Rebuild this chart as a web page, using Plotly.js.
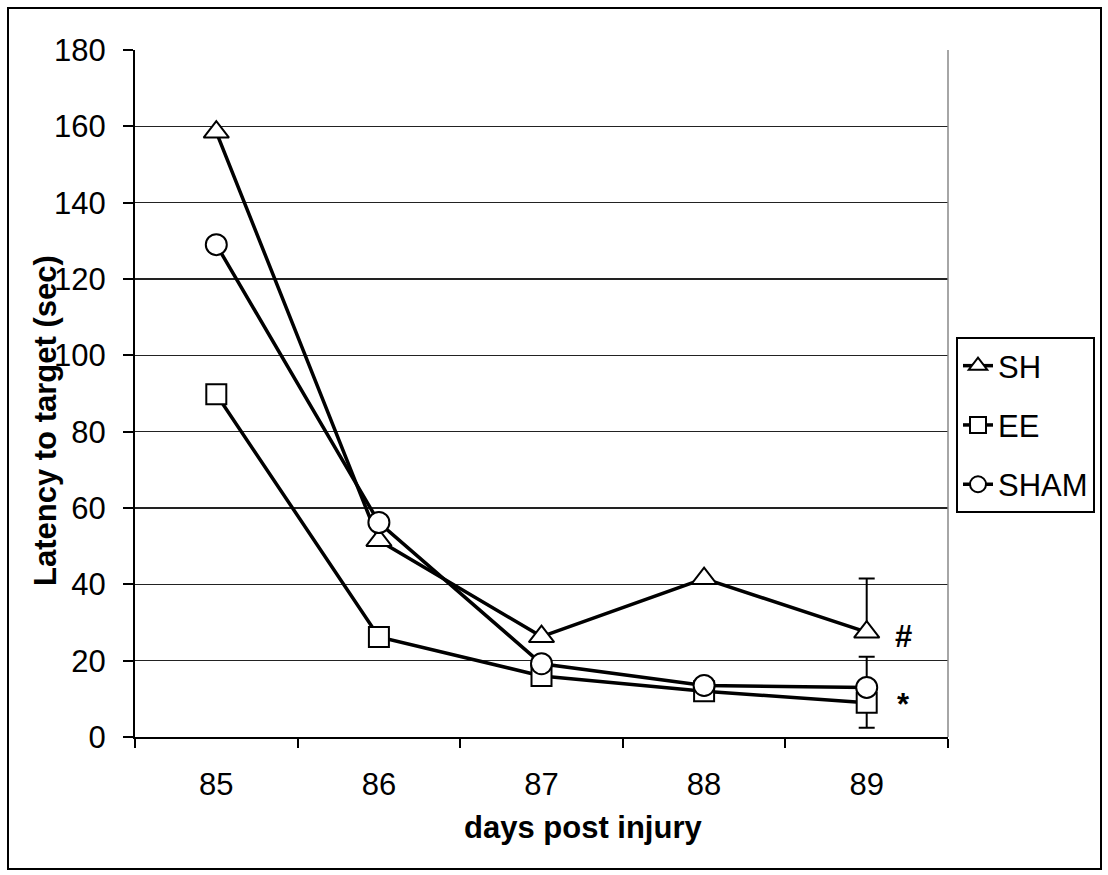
<!DOCTYPE html>
<html>
<head>
<meta charset="utf-8">
<script src="https://cdn.plot.ly/plotly-3.0.1.min.js"></script>
<style>html,body{margin:0;padding:0;background:#fff}#chart{width:1108px;height:875px}</style>
</head>
<body>
<div id="chart"></div>
<script>
const days = ['85', '86', '87', '88', '89'];
const shValues = [158.5, 51.5, 26.3, 41.5, 27.5];
const eeValues = [89.8, 26.2, 16, 12, 9];
const shamValues = [129, 56.2, 19.2, 13.5, 13];
const shErrPlus = [0, 0, 0, 0, 14];
const eeErrMinus = [0, 0, 0, 0, 6.6];
const shamErrPlus = [0, 0, 0, 0, 8];
const zeros = [0, 0, 0, 0, 0];
const yTicks = [0, 20, 40, 60, 80, 100, 120, 140, 160, 180];

const L = 135, R = 948, T = 50, B = 737;
const W = 1108, H = 875;
const pw = R - L, ph = B - T;
const px = v => (v - L) / pw;
const py = v => (B - v) / ph;
const FS = 31;

function series(name, y, symbol, size, err) {
  return {
    type: 'scatter', mode: 'lines+markers', name: name, x: days, y: y,
    legendgroup: name,
    line: {color: '#000', width: 3.5},
    marker: {symbol: symbol, size: size, color: '#fff', line: {color: '#000', width: 2}},
    error_y: err,
    cliponaxis: false
  };
}
function err(plus, minus) {
  return {type: 'data', symmetric: false, array: plus, arrayminus: minus, color: '#000', thickness: 2, width: 8};
}
const traces = [
  series('SH', shValues, 'triangle-up', 22, err(shErrPlus, zeros)),
  series('EE', eeValues, 'square', 20, err(zeros, eeErrMinus)),
  series('SHAM', shamValues, 'circle', 21, err(shamErrPlus, zeros))
];

const layout = {
  width: W, height: H,
  margin: {l: L, r: W - R, t: T, b: H - B, autoexpand: false},
  paper_bgcolor: '#fff', plot_bgcolor: '#fff',
  font: {family: 'Liberation Sans, Arial, sans-serif', color: '#000', size: FS},
  showlegend: true,
  legend: {x: px(956), y: py(337), xanchor: 'left', yanchor: 'top',
           bordercolor: '#000', borderwidth: 2, bgcolor: '#fff',
           font: {size: FS}, traceorder: 'grouped', tracegroupgap: 16, itemwidth: 30},
  xaxis: {
    type: 'category', range: [-0.5, 4.5], tickson: 'boundaries', ticks: 'outside', ticklen: 9, tickwidth: 2, tickcolor: '#000',
    showline: true, linecolor: '#000', linewidth: 2, showgrid: false, zeroline: false,
    tickfont: {size: FS}, fixedrange: true, automargin: false, ticklabelstandoff: 19
  },
  yaxis: {
    range: [0, 180], tickvals: yTicks, ticktext: yTicks.map(String),
    ticks: 'outside', ticklen: 10, tickwidth: 2, tickcolor: '#000',
    showline: true, linecolor: '#000', linewidth: 2,
    showgrid: true, gridcolor: '#222', gridwidth: 1.5, zeroline: false,
    tickfont: {size: FS}, fixedrange: true, automargin: false, ticklabelstandoff: 11
  },
  shapes: [
    {type: 'line', xref: 'paper', yref: 'paper', x0: 1, x1: 1, y0: 0, y1: 1, line: {color: '#888', width: 1.5}},
    {type: 'rect', xref: 'paper', yref: 'paper', x0: px(8), x1: px(1101), y0: py(869), y1: py(8), line: {color: '#000', width: 2}, layer: 'below'}
  ],
  annotations: [
    {xref: 'paper', yref: 'paper', x: px(583), y: py(828), xanchor: 'center', yanchor: 'middle',
     text: '<b>days post injury</b>', showarrow: false, font: {size: FS}},
    {xref: 'paper', yref: 'paper', x: px(45), y: py(421), xanchor: 'center', yanchor: 'middle', textangle: -90,
     text: '<b>Latency to target (sec)</b>', showarrow: false, font: {size: FS}},
    {xref: 'paper', yref: 'paper', x: px(903), y: py(636), xanchor: 'center', yanchor: 'middle',
     text: '<b>#</b>', showarrow: false, font: {size: FS}},
    {xref: 'paper', yref: 'paper', x: px(903), y: py(704), xanchor: 'center', yanchor: 'middle',
     text: '<b>*</b>', showarrow: false, font: {size: FS}}
  ]
};
Plotly.newPlot('chart', traces, layout, {staticPlot: true, displayModeBar: false});
</script>
</body>
</html>
